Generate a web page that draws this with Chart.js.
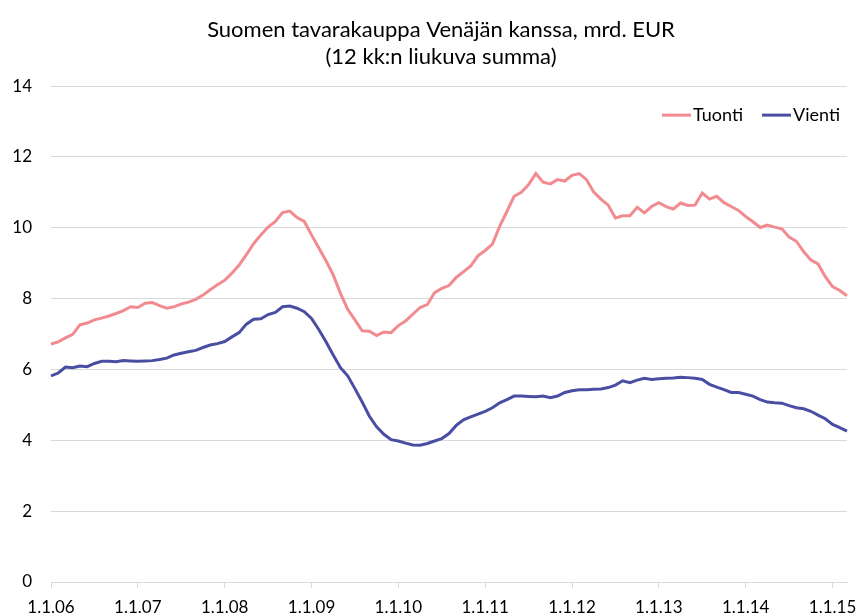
<!DOCTYPE html>
<html lang="fi">
  <head>
    <meta charset="UTF-8" />
    <title>Suomen tavarakauppa Venäjän kanssa</title>
    <script src="https://cdn.jsdelivr.net/npm/chart.js@4.4.0/dist/chart.umd.min.js"></script>
    <style>
      body {
        margin: 0;
        background-color: #ffffff;
      }
    </style>
  </head>
  <body>
    <canvas id="myChart" width="857" height="615"></canvas>

    <script>
      // 12 kk:n liukuva summa, mrd. EUR, kuukausittain 1/2006 - 3/2015
      const startYear = 2006;
      const monthCount = 111;

      const tuonti = [
        6.72, 6.78, 6.89, 6.99, 7.26, 7.31, 7.40, 7.45, 7.51, 7.58, 7.66, 7.77,
        7.75, 7.87, 7.89, 7.80, 7.73, 7.77, 7.85, 7.90, 7.98, 8.10, 8.25, 8.39,
        8.52, 8.72, 8.95, 9.24, 9.55, 9.80, 10.02, 10.18, 10.43, 10.47, 10.29, 10.18,
        9.80, 9.44, 9.07, 8.67, 8.15, 7.70, 7.40, 7.09, 7.08, 6.96, 7.06, 7.04,
        7.24, 7.37, 7.56, 7.75, 7.83, 8.17, 8.29, 8.37, 8.60, 8.76, 8.92, 9.21,
        9.36, 9.54, 10.04, 10.46, 10.89, 11.00, 11.22, 11.53, 11.29, 11.24, 11.36, 11.32,
        11.48, 11.53, 11.36, 11.01, 10.81, 10.64, 10.28, 10.34, 10.34, 10.58, 10.42, 10.60,
        10.71, 10.60, 10.53, 10.70, 10.63, 10.64, 10.98, 10.81, 10.89, 10.71, 10.60, 10.49,
        10.32, 10.17, 10.01, 10.08, 10.02, 9.97, 9.74, 9.62, 9.33, 9.09, 8.98, 8.62,
        8.34, 8.23, 8.08,
      ];

      const vienti = [
        5.82, 5.90, 6.07, 6.05, 6.10, 6.08, 6.17, 6.23, 6.23, 6.22, 6.25, 6.24,
        6.23, 6.24, 6.25, 6.28, 6.32, 6.41, 6.46, 6.50, 6.54, 6.62, 6.69, 6.73,
        6.79, 6.92, 7.04, 7.28, 7.42, 7.43, 7.55, 7.61, 7.77, 7.79, 7.73, 7.63,
        7.44, 7.13, 6.78, 6.41, 6.05, 5.82, 5.46, 5.08, 4.68, 4.38, 4.17, 4.02,
        3.98, 3.92, 3.87, 3.86, 3.91, 3.98, 4.05, 4.19, 4.42, 4.58, 4.66, 4.74,
        4.82, 4.92, 5.06, 5.15, 5.25, 5.25, 5.24, 5.23, 5.25, 5.20, 5.25, 5.35,
        5.40, 5.43, 5.43, 5.44, 5.45, 5.49, 5.56, 5.68, 5.63, 5.70, 5.75, 5.72,
        5.74, 5.75, 5.76, 5.78, 5.77, 5.75, 5.72, 5.58, 5.50, 5.43, 5.35, 5.35,
        5.30, 5.25, 5.15, 5.08, 5.06, 5.05, 4.98, 4.92, 4.89, 4.82, 4.71, 4.61,
        4.45, 4.36, 4.26,
      ];

      const yTicks = [0, 2, 4, 6, 8, 10, 12, 14];

      // kuukausien nimiöt muodossa 1.kk.vv
      const months = [];
      for (let i = 0; i < monthCount; i++) {
        const y = startYear + Math.floor(i / 12);
        const m = (i % 12) + 1;
        months.push("1." + m + "." + String(y).slice(2));
      }

      const FONT = "Lato, 'Open Sans', sans-serif";
      const GRID = "#d9d9d9";

      // otsikko keskitetään hieman oikealle, kuten alkuperäisessä
      const shiftTitle = {
        id: "shiftTitle",
        afterLayout(chart) {
          const t = chart.titleBlock;
          if (t) {
            t.left = 35;
            t.right = chart.chartArea.right;
          }
        },
      };

      // selite piirretään kuva-alueen oikeaan yläkulmaan
      const insideLegend = {
        id: "insideLegend",
        afterDraw(chart) {
          const c = chart.ctx;
          const area = chart.chartArea;
          const y = area.top + 29;
          let right = area.right - 7;
          c.save();
          c.font = "18px " + FONT;
          c.textBaseline = "middle";
          c.textAlign = "left";
          const sets = chart.data.datasets.slice().reverse();
          sets.forEach(function (ds) {
            const w = c.measureText(ds.label).width;
            const textX = right - w;
            c.fillStyle = "#000";
            c.fillText(ds.label, textX, y);
            c.strokeStyle = ds.borderColor;
            c.lineWidth = 3;
            c.beginPath();
            c.moveTo(textX - 31, y);
            c.lineTo(textX - 2, y);
            c.stroke();
            right = textX - 31 - 19;
          });
          c.restore();
        },
      };

      const ctx = document.getElementById("myChart").getContext("2d");
      new Chart(ctx, {
        type: "line",
        data: {
          labels: months,
          datasets: [
            {
              label: "Tuonti",
              data: tuonti,
              borderColor: "#f28b90",
              backgroundColor: "#f28b90",
              borderWidth: 3,
              pointRadius: 0,
              tension: 0,
            },
            {
              label: "Vienti",
              data: vienti,
              borderColor: "#4a4ea3",
              backgroundColor: "#4a4ea3",
              borderWidth: 3,
              pointRadius: 0,
              tension: 0,
            },
          ],
        },
        plugins: [shiftTitle, insideLegend],
        options: {
          responsive: false,
          animation: false,
          layout: {
            padding: { left: 0, right: 10, top: 0, bottom: 0 },
          },
          plugins: {
            title: {
              display: true,
              text: [
                "Suomen tavarakauppa Venäjän kanssa, mrd. EUR",
                "(12 kk:n liukuva summa)",
              ],
              color: "#000",
              font: { family: FONT, size: 22, weight: "normal", lineHeight: 1.23 },
              padding: { top: 16, bottom: 16 },
            },
            legend: { display: false },
            tooltip: { enabled: false },
          },
          scales: {
            x: {
              grid: {
                drawOnChartArea: false,
                tickLength: 6,
                tickColor: (c) => (c.index % 12 === 0 ? GRID : "rgba(0,0,0,0)"),
              },
              border: { color: GRID },
              ticks: {
                autoSkip: false,
                maxRotation: 0,
                color: "#000",
                font: { family: FONT, size: 17 },
                padding: 9,
                callback: function (value, index) {
                  return index % 12 === 0 ? months[index] : "";
                },
              },
              afterFit: function (scale) {
                scale.height = 33;
              },
            },
            y: {
              min: 0,
              max: 14,
              afterBuildTicks: function (scale) {
                scale.ticks = yTicks.map((v) => ({ value: v }));
              },
              grid: { color: GRID, drawTicks: false },
              border: { display: false },
              ticks: {
                color: "#000",
                font: { family: FONT, size: 17 },
                padding: 19,
              },
              afterFit: function (scale) {
                scale.width = 51;
              },
            },
          },
        },
      });
    </script>
  </body>
</html>
